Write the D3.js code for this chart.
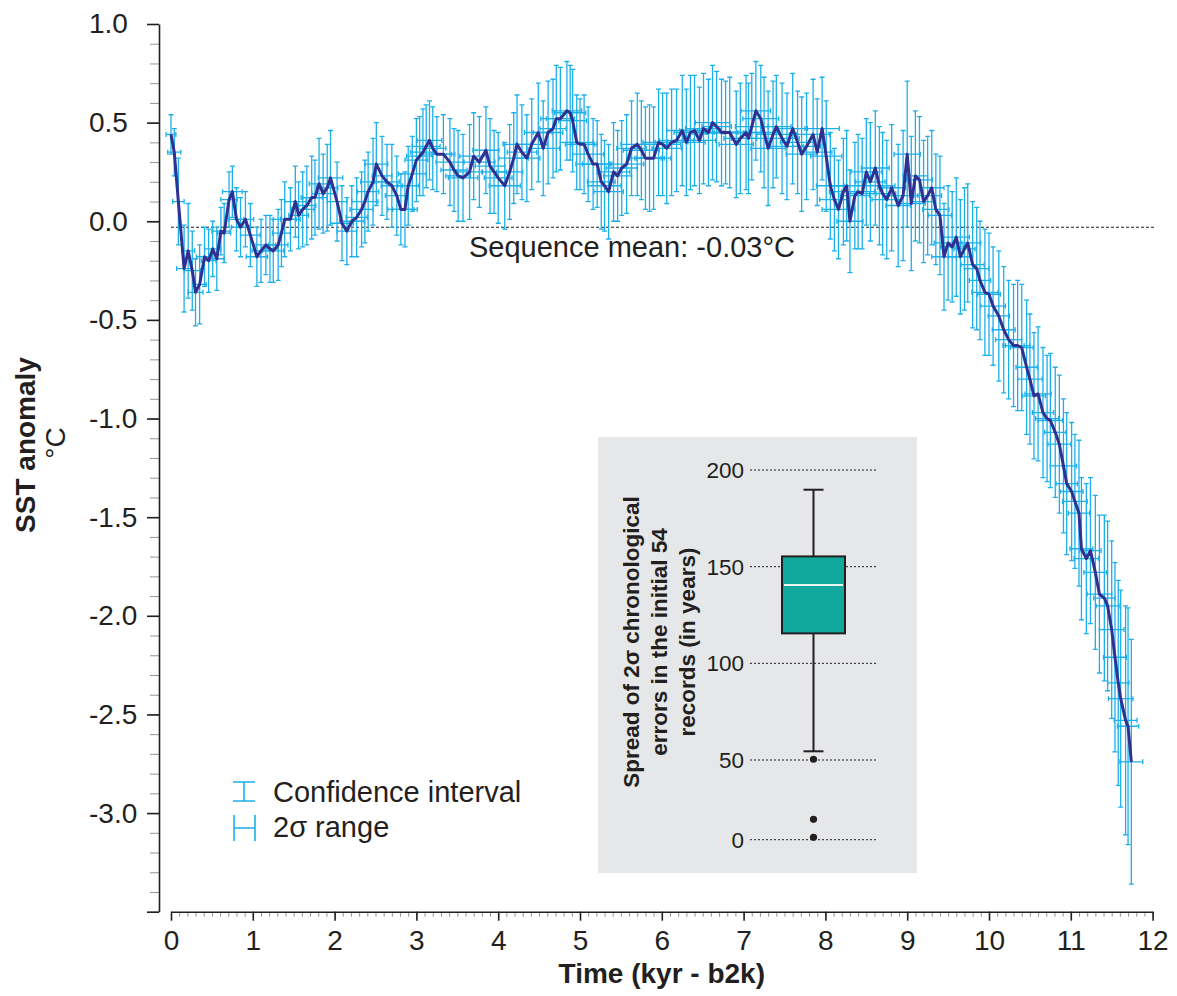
<!DOCTYPE html>
<meta charset="utf-8">
<script src="https://d3js.org/d3.v7.min.js"></script>
<style>
  body { margin: 0; background: #fff; }
  text { font-family: "Liberation Sans", Arial, sans-serif; fill: #231f20; }
</style>
<div id="vis"></div>
<script type="text/javascript">

// time of each stacked value (kyr b2k)
var kyr = [
  0.00, 0.04, 0.09, 0.16, 0.21, 0.26, 0.30, 0.35, 0.41, 0.46,
  0.51, 0.56, 0.61, 0.65, 0.71, 0.75, 0.80, 0.85, 0.91, 0.97,
  1.05, 1.10, 1.16, 1.21, 1.25, 1.31, 1.35, 1.39, 1.46, 1.52,
  1.56, 1.61, 1.66, 1.72, 1.76, 1.81, 1.86, 1.91, 1.95, 2.03,
  2.09, 2.15, 2.21, 2.27, 2.33, 2.37, 2.41, 2.47, 2.51, 2.58,
  2.64, 2.70, 2.76, 2.81, 2.86, 2.90, 2.95, 3.00, 3.04, 3.08,
  3.12, 3.16, 3.20, 3.25, 3.33, 3.41, 3.46, 3.51, 3.57, 3.65,
  3.70, 3.77, 3.85, 3.90, 3.95, 4.00, 4.08, 4.14, 4.19, 4.23,
  4.29, 4.35, 4.41, 4.49, 4.55, 4.61, 4.67, 4.71, 4.76, 4.84,
  4.88, 4.91, 4.96, 5.00, 5.05, 5.10, 5.16, 5.21, 5.26, 5.30,
  5.35, 5.41, 5.46, 5.51, 5.57, 5.63, 5.70, 5.75, 5.80, 5.85,
  5.90, 5.96, 6.01, 6.06, 6.12, 6.18, 6.25, 6.30, 6.35, 6.40,
  6.46, 6.51, 6.57, 6.62, 6.67, 6.73, 6.78, 6.83, 6.91, 6.96,
  7.03, 7.06, 7.10, 7.15, 7.21, 7.25, 7.30, 7.36, 7.40, 7.47,
  7.53, 7.60, 7.66, 7.71, 7.77, 7.85, 7.90, 7.96, 8.01, 8.06,
  8.11, 8.16, 8.22, 8.26, 8.30, 8.36, 8.40, 8.45, 8.50, 8.55,
  8.61, 8.66, 8.70, 8.75, 8.81, 8.89, 8.95, 9.00, 9.05, 9.10,
  9.15, 9.20, 9.25, 9.30, 9.35, 9.40, 9.45, 9.50, 9.55, 9.60,
  9.65, 9.70, 9.74, 9.80, 9.85, 9.89, 9.95, 10.00, 10.05, 10.12,
  10.18, 10.24, 10.30, 10.35, 10.40, 10.46, 10.50, 10.55, 10.60, 10.66,
  10.71, 10.75, 10.81, 10.86, 10.91, 10.95, 11.01, 11.05, 11.10, 11.13,
  11.19, 11.24, 11.30, 11.35, 11.41, 11.45, 11.50, 11.54, 11.58, 11.61,
  11.67, 11.70, 11.74
];

// SST anomaly (°C)
var sst = [
  0.44, 0.35, 0.10, -0.24, -0.15, -0.25, -0.36, -0.32, -0.18, -0.20,
  -0.14, -0.19, -0.05, -0.06, 0.11, 0.15, 0.01, -0.03, 0.01, -0.07,
  -0.18, -0.15, -0.12, -0.14, -0.15, -0.12, -0.06, 0.01, 0.01, 0.10,
  0.03, 0.06, 0.08, 0.12, 0.12, 0.19, 0.14, 0.17, 0.22, 0.10,
  -0.01, -0.05, 0.00, 0.02, 0.06, 0.10, 0.15, 0.20, 0.29, 0.23,
  0.20, 0.18, 0.13, 0.06, 0.06, 0.18, 0.24, 0.31, 0.33, 0.35,
  0.38, 0.41, 0.37, 0.34, 0.34, 0.30, 0.26, 0.23, 0.22, 0.25,
  0.33, 0.30, 0.36, 0.28, 0.25, 0.22, 0.18, 0.25, 0.32, 0.39,
  0.35, 0.32, 0.39, 0.45, 0.37, 0.45, 0.47, 0.52, 0.52, 0.56,
  0.55, 0.51, 0.40, 0.39, 0.39, 0.34, 0.29, 0.29, 0.20, 0.18,
  0.15, 0.25, 0.23, 0.27, 0.29, 0.37, 0.39, 0.36, 0.32, 0.32,
  0.32, 0.40, 0.39, 0.37, 0.40, 0.41, 0.46, 0.40, 0.45, 0.46,
  0.41, 0.47, 0.45, 0.50, 0.48, 0.45, 0.45, 0.45, 0.39, 0.42,
  0.45, 0.42, 0.48, 0.56, 0.52, 0.45, 0.37, 0.44, 0.48, 0.42,
  0.38, 0.47, 0.40, 0.34, 0.38, 0.44, 0.35, 0.47, 0.33, 0.18,
  0.11, 0.06, 0.15, 0.18, 0.00, 0.13, 0.15, 0.14, 0.25, 0.20,
  0.27, 0.18, 0.14, 0.11, 0.17, 0.08, 0.13, 0.34, 0.09, 0.23,
  0.21, 0.10, 0.13, 0.17, 0.06, 0.03, -0.18, -0.11, -0.13, -0.08,
  -0.18, -0.14, -0.11, -0.22, -0.24, -0.30, -0.36, -0.37, -0.43, -0.48,
  -0.55, -0.60, -0.63, -0.63, -0.64, -0.74, -0.80, -0.885, -0.875, -0.97,
  -1.00, -1.01, -1.07, -1.13, -1.24, -1.33, -1.37, -1.42, -1.48, -1.66,
  -1.71, -1.67, -1.78, -1.89, -1.91, -1.95, -2.07, -2.21, -2.34, -2.42,
  -2.53, -2.56, -2.74
];

// half width of the confidence interval (°C)
var ciHalf = [
  0.10, 0.12, 0.22, 0.22, 0.24, 0.20, 0.17, 0.20, 0.15, 0.16,
  0.14, 0.16, 0.12, 0.15, 0.14, 0.13, 0.16, 0.15, 0.14, 0.16,
  0.15, 0.16, 0.15, 0.17, 0.16, 0.18, 0.17, 0.19, 0.16, 0.18,
  0.17, 0.19, 0.20, 0.21, 0.19, 0.23, 0.20, 0.22, 0.24, 0.20,
  0.19, 0.17, 0.18, 0.20, 0.19, 0.21, 0.20, 0.22, 0.21, 0.20,
  0.19, 0.21, 0.20, 0.18, 0.19, 0.20, 0.19, 0.21, 0.20, 0.22,
  0.21, 0.20, 0.21, 0.19, 0.20, 0.22, 0.21, 0.23, 0.22, 0.24,
  0.22, 0.23, 0.22, 0.24, 0.21, 0.23, 0.22, 0.24, 0.23, 0.25,
  0.24, 0.22, 0.23, 0.25, 0.24, 0.26, 0.25, 0.27, 0.26, 0.25,
  0.24, 0.26, 0.24, 0.23, 0.25, 0.24, 0.23, 0.22, 0.24, 0.23,
  0.24, 0.25, 0.23, 0.24, 0.25, 0.24, 0.26, 0.25, 0.26, 0.27,
  0.26, 0.27, 0.26, 0.28, 0.27, 0.26, 0.28, 0.27, 0.29, 0.28,
  0.27, 0.28, 0.27, 0.29, 0.28, 0.27, 0.26, 0.28, 0.27, 0.28,
  0.29, 0.28, 0.27, 0.25, 0.27, 0.28, 0.29, 0.27, 0.26, 0.28,
  0.27, 0.28, 0.26, 0.29, 0.27, 0.28, 0.27, 0.26, 0.28, 0.27,
  0.26, 0.25, 0.27, 0.28, 0.26, 0.27, 0.29, 0.28, 0.27, 0.30,
  0.29, 0.30, 0.31, 0.30, 0.32, 0.31, 0.33, 0.37, 0.34, 0.33,
  0.32, 0.31, 0.30, 0.29, 0.28, 0.30, 0.27, 0.29, 0.28, 0.30,
  0.29, 0.31, 0.30, 0.32, 0.31, 0.30, 0.32, 0.31, 0.30, 0.33,
  0.32, 0.30, 0.31, 0.33, 0.32, 0.34, 0.33, 0.32, 0.34, 0.33,
  0.32, 0.34, 0.33, 0.35, 0.34, 0.36, 0.35, 0.34, 0.37, 0.36,
  0.38, 0.37, 0.39, 0.40, 0.42, 0.43, 0.45, 0.48, 0.52, 0.55,
  0.58, 0.60, 0.62
];

// half width of the 2 sigma age range (kyr)
var sigmaHalf = [
  0.06, 0.08, 0.07, 0.09, 0.08, 0.10, 0.09, 0.08, 0.10, 0.09,
  0.10, 0.09, 0.11, 0.08, 0.10, 0.12, 0.09, 0.11, 0.10, 0.12,
  0.13, 0.11, 0.12, 0.10, 0.13, 0.12, 0.11, 0.14, 0.12, 0.13,
  0.12, 0.14, 0.11, 0.13, 0.15, 0.12, 0.14, 0.13, 0.15, 0.12,
  0.14, 0.12, 0.15, 0.13, 0.14, 0.16, 0.13, 0.15, 0.14, 0.12,
  0.15, 0.13, 0.14, 0.16, 0.15, 0.13, 0.17, 0.14, 0.16, 0.15,
  0.17, 0.15, 0.16, 0.18, 0.14, 0.17, 0.16, 0.15, 0.18, 0.16,
  0.17, 0.19, 0.16, 0.18, 0.15, 0.17, 0.19, 0.16, 0.18, 0.17,
  0.18, 0.16, 0.19, 0.17, 0.20, 0.18, 0.16, 0.19, 0.17, 0.18,
  0.19, 0.17, 0.20, 0.18, 0.16, 0.19, 0.21, 0.18, 0.17, 0.20,
  0.18, 0.20, 0.17, 0.19, 0.21, 0.18, 0.20, 0.22, 0.19, 0.18,
  0.21, 0.19, 0.22, 0.18, 0.20, 0.21, 0.19, 0.23, 0.20, 0.18,
  0.20, 0.22, 0.19, 0.21, 0.18, 0.20, 0.22, 0.19, 0.21, 0.20,
  0.19, 0.21, 0.20, 0.18, 0.22, 0.19, 0.21, 0.20, 0.18, 0.21,
  0.20, 0.18, 0.21, 0.19, 0.17, 0.20, 0.18, 0.21, 0.19, 0.17,
  0.18, 0.20, 0.17, 0.19, 0.16, 0.18, 0.20, 0.17, 0.19, 0.18,
  0.17, 0.19, 0.16, 0.18, 0.17, 0.15, 0.18, 0.16, 0.17, 0.15,
  0.16, 0.14, 0.17, 0.15, 0.16, 0.14, 0.15, 0.17, 0.14, 0.16,
  0.15, 0.13, 0.16, 0.14, 0.15, 0.13, 0.16, 0.14, 0.15, 0.13,
  0.14, 0.16, 0.13, 0.15, 0.14, 0.13, 0.15, 0.14, 0.16, 0.13,
  0.14, 0.15, 0.13, 0.14, 0.16, 0.13, 0.14, 0.15, 0.13, 0.14,
  0.15, 0.13, 0.14, 0.15, 0.13, 0.14, 0.15, 0.14, 0.13, 0.15,
  0.14, 0.13, 0.14
];

var sequenceMean = -0.03;
var yTicks = [-3.5, -3.0, -2.5, -2.0, -1.5, -1.0, -0.5, 0.0, 0.5, 1.0];
var xTicks = [0, 1, 2, 3, 4, 5, 6, 7, 8, 9, 10, 11, 12];

// inset: spread of 2 sigma chronological errors (years)
var boxGroup = ["records"];
var boxQuartiles = [115.5, 140.5, 155.3];
var boxWhiskers = [54.5, 189.8];
var boxOutliers = [50.4, 12.8, 1.5];
var insetTicks = [0, 50, 100, 150, 200];

var cyan = "#1cb0ea",
    navy = "#2e3192",
    ink = "#231f20",
    minorGrey = "#939598";

var width = 1177, height = 996;
var plot = {left: 171, right: 1152.6, top: 24, bottom: 911.7, yAxisX: 159};

var svg = d3.select("#vis")
  .append("svg")
    .attr("width", width)
    .attr("height", height);

svg.append("rect").attr("width", width).attr("height", height).attr("fill", "#fff");

var x = d3.scaleLinear().domain([0, 12]).range([plot.left, plot.right]);
var y = d3.scaleLinear().domain([-3.5, 1.0]).range([plot.bottom, plot.top]);

var data = kyr.map(function(t, i) {
  return {t: t, v: sst[i], ci: ciHalf[i], sg: sigmaHalf[i]};
});

// minor ticks
svg.append("g")
  .attr("transform", "translate(" + plot.yAxisX + ",0)")
  .call(d3.axisLeft(y).tickValues(d3.range(-35, 11).map(function(d) { return d / 10; }))
    .tickSize(9).tickSizeOuter(0).tickFormat(""))
  .call(function(g) {
    g.select(".domain").remove();
    g.selectAll("line").attr("stroke", minorGrey).attr("stroke-width", 1);
  });

svg.append("g")
  .attr("transform", "translate(0," + plot.bottom + ")")
  .call(d3.axisBottom(x).tickValues(d3.range(0, 121).map(function(d) { return d / 10; }))
    .tickSize(5).tickSizeOuter(0).tickFormat(""))
  .call(function(g) {
    g.select(".domain").remove();
    g.selectAll("line").attr("stroke", minorGrey).attr("stroke-width", 1);
  });

// major axes
svg.append("g")
  .attr("transform", "translate(" + plot.yAxisX + ",0)")
  .call(d3.axisLeft(y).tickValues(yTicks).tickSize(12).tickSizeOuter(0)
    .tickFormat(function(d) { return d === -3.5 ? "" : d.toFixed(1); }))
  .call(function(g) {
    g.select(".domain").attr("stroke", ink).attr("stroke-width", 1.6);
    g.selectAll("line").attr("stroke", ink).attr("stroke-width", 1.6);
    g.selectAll("text")
      .attr("x", -70)
      .attr("text-anchor", "start")
      .attr("font-size", 28)
      .attr("font-family", null)
      .attr("fill", ink);
  });

svg.append("g")
  .attr("transform", "translate(0," + plot.bottom + ")")
  .call(d3.axisBottom(x).tickValues(xTicks).tickSize(9).tickSizeOuter(0))
  .call(function(g) {
    g.select(".domain").attr("stroke", ink).attr("stroke-width", 1.6);
    g.selectAll("line").attr("stroke", ink).attr("stroke-width", 1.6);
    g.selectAll("text")
      .attr("y", 18.5)
      .attr("font-size", 28)
      .attr("font-family", null)
      .attr("fill", ink);
  });

// axis titles
svg.append("text")
  .attr("transform", "translate(35,445) rotate(-90)")
  .attr("text-anchor", "middle")
  .attr("font-size", 28)
  .attr("font-weight", "bold")
  .text("SST anomaly");

svg.append("text")
  .attr("transform", "translate(65,443) rotate(-90)")
  .attr("text-anchor", "middle")
  .attr("font-size", 28)
  .text("°C");

svg.append("text")
  .attr("x", (plot.left + plot.right) / 2)
  .attr("y", 983)
  .attr("text-anchor", "middle")
  .attr("font-size", 28)
  .attr("font-weight", "bold")
  .text("Time (kyr - b2k)");

// sequence mean
svg.append("line")
  .attr("x1", x(0)).attr("x2", x(12) + 2)
  .attr("y1", y(sequenceMean)).attr("y2", y(sequenceMean))
  .attr("stroke", ink).attr("stroke-width", 1.1)
  .attr("stroke-dasharray", "3,2");

svg.append("text")
  .attr("x", 632)
  .attr("y", y(sequenceMean) + 29.5)
  .attr("text-anchor", "middle")
  .attr("font-size", 29)
  .text("Sequence mean: " + sequenceMean.toFixed(2) + "°C");

// 2 sigma ranges
var hBars = svg.append("g").attr("stroke", cyan).attr("stroke-width", 1.3).attr("fill", "none");
hBars.selectAll("path").data(data)
  .enter().append("path")
    .attr("d", function(d) {
      var x0 = x(d.t - d.sg), x1 = x(d.t + d.sg), yy = y(d.v);
      return "M" + x0 + "," + yy + "H" + x1 +
             "M" + x0 + "," + (yy - 2.5) + "V" + (yy + 2.5) +
             "M" + x1 + "," + (yy - 2.5) + "V" + (yy + 2.5);
    });

// confidence intervals
var vBars = svg.append("g").attr("stroke", cyan).attr("stroke-width", 1.3).attr("fill", "none");
vBars.selectAll("path").data(data)
  .enter().append("path")
    .attr("d", function(d) {
      var xx = x(d.t), y0 = y(d.v + d.ci), y1 = y(d.v - d.ci);
      return "M" + xx + "," + y0 + "V" + y1 +
             "M" + (xx - 2.5) + "," + y0 + "H" + (xx + 2.5) +
             "M" + (xx - 2.5) + "," + y1 + "H" + (xx + 2.5);
    });

// stacked SST line
svg.append("path")
  .datum(data)
  .attr("fill", "none")
  .attr("stroke", navy)
  .attr("stroke-width", 3)
  .attr("stroke-linejoin", "round")
  .attr("d", d3.line()
    .x(function(d) { return x(d.t); })
    .y(function(d) { return y(d.v); })
  );

// legend
var legend = svg.append("g");
legend.append("path")
  .attr("d", "M244,782V801M233,782H255M233,801H255")
  .attr("stroke", cyan).attr("stroke-width", 1.6).attr("fill", "none");
legend.append("path")
  .attr("d", "M234,815V841M255,815V841M234,828H255")
  .attr("stroke", cyan).attr("stroke-width", 1.6).attr("fill", "none");
legend.append("text").attr("x", 273).attr("y", 802).attr("font-size", 29).text("Confidence interval");
legend.append("text").attr("x", 273).attr("y", 837).attr("font-size", 29).text("2σ range");

// inset box plot
var inset = svg.append("g");
inset.append("rect")
  .attr("x", 598).attr("y", 437)
  .attr("width", 319).attr("height", 436)
  .attr("fill", "#e6e7e8");

var yi = d3.scaleLinear().domain([0, 50, 200]).range([839.7, 760, 470]);
var xi = d3.scaleBand().domain(boxGroup).range([750, 877]).paddingOuter(0.508);

inset.selectAll("line.grid").data(insetTicks)
  .enter().append("line")
    .attr("class", "grid")
    .attr("x1", 750).attr("x2", 877)
    .attr("y1", function(d) { return yi(d); })
    .attr("y2", function(d) { return yi(d); })
    .attr("stroke", ink).attr("stroke-width", 1)
    .attr("stroke-dasharray", "2,2");

inset.selectAll("text.tick").data(insetTicks)
  .enter().append("text")
    .attr("class", "tick")
    .attr("x", 744)
    .attr("y", function(d) { return yi(d); })
    .attr("dy", "0.35em")
    .attr("text-anchor", "end")
    .attr("font-size", 22.5)
    .text(function(d) { return d; });

var cx = xi(boxGroup[0]) + xi.bandwidth() / 2;

inset.append("line")
  .attr("x1", cx).attr("x2", cx)
  .attr("y1", yi(boxWhiskers[0])).attr("y2", yi(boxWhiskers[1]))
  .attr("stroke", ink).attr("stroke-width", 2);

inset.selectAll("line.cap").data(boxWhiskers)
  .enter().append("line")
    .attr("class", "cap")
    .attr("x1", cx - 10).attr("x2", cx + 10)
    .attr("y1", function(d) { return yi(d); })
    .attr("y2", function(d) { return yi(d); })
    .attr("stroke", ink).attr("stroke-width", 2);

inset.append("rect")
  .attr("x", xi(boxGroup[0]))
  .attr("y", yi(boxQuartiles[2]))
  .attr("width", xi.bandwidth())
  .attr("height", yi(boxQuartiles[0]) - yi(boxQuartiles[2]))
  .attr("fill", "#13a89e")
  .attr("stroke", ink).attr("stroke-width", 2);

inset.append("line")
  .attr("x1", xi(boxGroup[0]) + 2).attr("x2", xi(boxGroup[0]) + xi.bandwidth() - 2)
  .attr("y1", yi(boxQuartiles[1])).attr("y2", yi(boxQuartiles[1]))
  .attr("stroke", "#eef6f4").attr("stroke-width", 2);

inset.selectAll("circle").data(boxOutliers)
  .enter().append("circle")
    .attr("cx", cx)
    .attr("cy", function(d) { return yi(d); })
    .attr("r", 3.6)
    .attr("fill", ink);

var insetTitle = ["Spread of 2σ chronological", "errors in the initial 54", "records (in years)"];
inset.selectAll("text.title").data(insetTitle)
  .enter().append("text")
    .attr("class", "title")
    .attr("transform", function(d, i) { return "translate(" + (639 + i * 28) + ",642) rotate(-90)"; })
    .attr("text-anchor", "middle")
    .attr("font-size", 22.5)
    .attr("font-weight", "bold")
    .text(function(d) { return d; });

</script>
